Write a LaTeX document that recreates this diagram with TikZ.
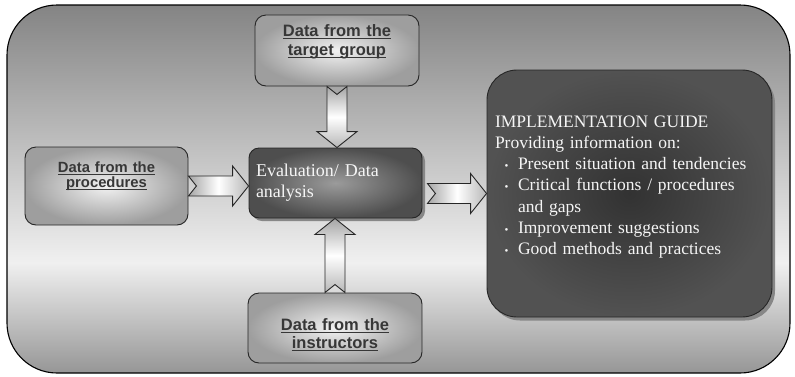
\documentclass[tikz,border=0pt]{standalone}
\usepackage{fontspec}
\setmainfont{Liberation Serif}
\setsansfont{Liberation Sans}
\usetikzlibrary{calc,shadows}
\definecolor{FrameTop}{RGB}{132,132,132}
\definecolor{FrameLight}{RGB}{240,240,240}
\definecolor{FrameBottom}{RGB}{150,150,150}
\definecolor{LabelGray}{RGB}{55,55,55}
\definecolor{PaleBox}{RGB}{242,242,242}
\definecolor{EdgeBox}{RGB}{158,158,158}
\definecolor{EvalInner}{RGB}{155,155,155}
\definecolor{EvalOuter}{RGB}{78,78,78}
\definecolor{GuideInner}{RGB}{50,50,50}
\definecolor{GuideOuter}{RGB}{82,82,82}
\definecolor{ShadowGray}{RGB}{135,135,135}
\definecolor{ArrowEdge}{RGB}{165,165,165}
\definecolor{SoftWhite}{RGB}{245,245,245}
\pgfdeclareverticalshading{framefade}{100bp}{color(0bp)=(FrameBottom); color(25bp)=(FrameBottom); color(40bp)=(FrameLight); color(75bp)=(FrameTop); color(100bp)=(FrameTop)}
% underline that runs just below the baseline
\newcommand\ulabel[1]{\leavevmode\setbox0\hbox{#1}\rlap{\rule[-2.6pt]{\wd0}{0.9pt}}\box0}
\newcommand\gbullet{\makebox[23pt]{\fontsize{11}{11}\selectfont\textbullet}}
% hollow block arrow with a notched tail, from #2 to #3
\newcommand\fatarrow[3][]{%
  \draw[fatarrow,#1] let \p1=(#2), \p2=(#3),
      \n1={veclen(\x2-\x1,\y2-\y1)}, \n2={atan2(\y2-\y1,\x2-\x1)} in
    [shift={(\p1)},rotate=\n2]
    (0pt,10pt) -- ({\n1-16pt},10pt) -- ({\n1-16pt},20pt) -- (\n1,0pt)
    -- ({\n1-16pt},-20pt) -- ({\n1-16pt},-10pt) -- (0pt,-10pt) -- (8pt,0pt) -- cycle;}
\tikzset{
  outerframe/.style={draw=black,line width=1.1pt,rounded corners=50pt,shading=framefade},
  databox/.style={draw=black!85,line width=0.9pt,rounded corners=11pt,inner color=PaleBox,outer color=EdgeBox,text=LabelGray,align=center,inner sep=0pt,font=\sffamily\bfseries\fontsize{16.5}{19}\selectfont},
  evalbox/.style={draw=black!85,line width=0.9pt,rounded corners=10pt,inner color=EvalInner,outer color=EvalOuter,text=SoftWhite,align=left,inner ysep=0pt,inner xsep=7pt,font=\fontsize{18}{21}\selectfont,general shadow={fill=ShadowGray,shadow xshift=3pt,shadow yshift=-3pt,rounded corners=10pt}},
  guidebox/.style={draw=black!85,line width=0.9pt,rounded corners=30pt,inner color=GuideInner,outer color=GuideOuter,text=SoftWhite,align=left,inner ysep=0pt,inner xsep=8pt,font=\fontsize{17.5}{21.3}\selectfont,general shadow={fill=ShadowGray,shadow xshift=3pt,shadow yshift=-3.5pt,rounded corners=30pt}},
  fatarrow/.style={draw=black!85,line width=0.9pt,line join=miter},
  shadeh/.style={left color=ArrowEdge,right color=ArrowEdge!80,middle color=white},
  shadev/.style={top color=ArrowEdge,bottom color=ArrowEdge!80,middle color=white}
}
\begin{document}
\begin{tikzpicture}[x=1pt,y=-1pt]
  \useasboundingbox (0,0) rectangle (795,376);
  \path[outerframe] (7,5) rectangle (790,373);
  \node[databox,minimum width=164pt,text width=164pt,text height=21pt,text depth=50pt] (target) at (337,50.5) {\ulabel{Data from the}\\\ulabel{target group}};
  \node[databox,minimum width=163pt,text width=163pt,text height=25pt,text depth=53pt,font=\sffamily\bfseries\fontsize{14.8}{15}\selectfont] (proc) at (106.5,186) {\ulabel{Data from the}\\\ulabel{procedures}};
  \node[databox,minimum width=174pt,text width=174pt,text height=37pt,text depth=33pt,font=\sffamily\bfseries\fontsize{16.5}{18}\selectfont] (instr) at (335,328) {\ulabel{Data from the}\\\ulabel{instructors}};
  \node[evalbox,minimum width=173pt,text width=159pt,text height=28pt,text depth=42pt] (eval) at (335.5,183) {Evaluation/ Data\\analysis};
  \node[guidebox,minimum width=285pt,text width=269pt,text height=57pt,text depth=190pt] (guide) at (629.5,193.5) {IMPLEMENTATION GUIDE\\
    Providing information on:\\
    \gbullet Present situation and tendencies\\
    \gbullet Critical functions / procedures\\
    \hspace*{23pt}and gaps\\
    \gbullet Improvement suggestions\\
    \gbullet Good methods and practices};
  \fatarrow[shadeh]{proc.east}{eval.west |- proc.east}
  \fatarrow[shadeh]{$(eval.east |- guide.west)+(5,0)$}{guide.west}
  \fatarrow[shadev]{target.south}{eval.north -| target.south}
  \fatarrow[shadev]{instr.north}{eval.south -| instr.north}
\end{tikzpicture}
\end{document}
